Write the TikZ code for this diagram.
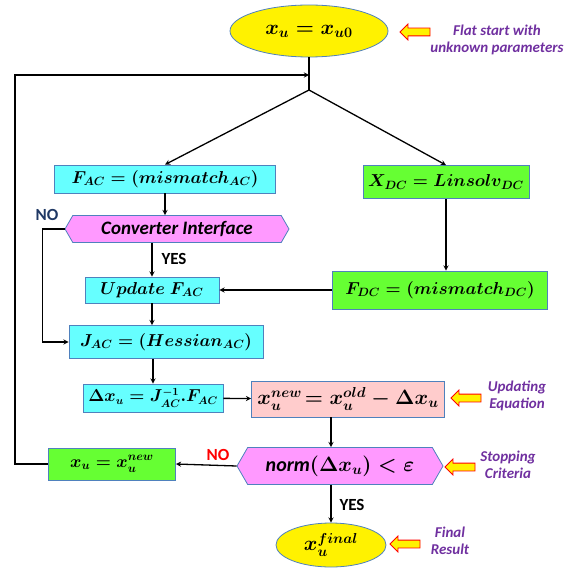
\documentclass[tikz,border=0pt]{standalone}
\usepackage{fontspec}
\newfontfamily\calibri{Carlito}
\usetikzlibrary{shapes.geometric,shapes.symbols,shapes.arrows}
\definecolor{bord}{RGB}{79,129,189}
\definecolor{cyanfill}{RGB}{102,255,255}
\definecolor{greenfill}{RGB}{102,255,51}
\definecolor{pinkfill}{RGB}{255,204,204}
\definecolor{magfill}{RGB}{255,153,255}
\definecolor{notepurple}{RGB}{112,48,160}
\definecolor{nodarkblue}{RGB}{31,56,100}
\newcommand\mathsize[1]{\boldmath\fontsize{#1}{#1}\selectfont}
\tikzset{
	mathbox/.style={draw=bord,thick,rectangle,inner sep=0pt,font=\mathsize{17}},
	acbox/.style={mathbox,fill=cyanfill},
	dcbox/.style={mathbox,fill=greenfill},
	hexbox/.style={draw=bord,thick,fill=magfill,signal,signal to=west and east,signal pointer angle=120,inner sep=0pt},
	oval/.style={draw=bord,thick,fill=yellow,ellipse,inner sep=0pt,font=\mathsize{20}},
	hollow/.style={draw=red,thick,fill=yellow,single arrow,shape border rotate=180,inner sep=3.5pt,minimum height=30pt,minimum width=15pt,single arrow head extend=4pt},
	note/.style={align=center,text=notepurple,font=\calibri\bfseries\itshape\fontsize{15}{17}\selectfont},
	answer/.style={font=\calibri\bfseries\fontsize{17}{19}\selectfont},
	link/.style={line width=1.3pt}
}
\begin{document}
\begin{tikzpicture}[x=1pt,y=-1pt,>=stealth]
	\useasboundingbox (0,0) rectangle (580,567);
	% nodes
	\node[oval,minimum width=158pt,minimum height=52pt] (start) at (309,31) {$x_u = x_{u0}$};
	\node[acbox,minimum width=221pt,minimum height=28pt] (fac) at (165,179) {$F_{AC} = (mismatch_{AC})$};
	\node[dcbox,minimum width=166pt,minimum height=33pt] (xdc) at (446,182) {$X_{DC} = Linsolv_{DC}$};
	\node[hexbox,minimum width=224pt,minimum height=27pt,font=\calibri\bfseries\itshape\fontsize{19}{21}\selectfont] (conv) at (177,229) {Converter Interface};
	\node[acbox,minimum width=134pt,minimum height=26pt] (upd) at (152,290) {$Update\ F_{AC}$};
	\node[dcbox,minimum width=215pt,minimum height=38pt] (fdc) at (440,290) {$F_{DC} = (mismatch_{DC})$};
	\node[acbox,minimum width=194pt,minimum height=33pt] (jac) at (166,342) {$J_{AC} = (Hessian_{AC})$};
	\node[acbox,minimum width=140pt,minimum height=28pt,font=\mathsize{16}] (dx) at (153,398) {$\Delta x_u = J_{AC}^{-1}.F_{AC}$};
	\node[mathbox,fill=pinkfill,minimum width=193pt,minimum height=36pt,font=\mathsize{19.5}] (xnew) at (348,399) {$x_u^{new}\!= x_u^{old} - \Delta x_u$};
	\node[hexbox,minimum width=206pt,minimum height=37pt,font=\mathsize{20}] (norm) at (340,466) {$\mbox{\calibri\bfseries\itshape norm}(\Delta x_u) < \varepsilon$};
	\node[dcbox,minimum width=127pt,minimum height=32pt,font=\mathsize{18}] (xup) at (112,464) {$x_u = x_u^{new}$};
	\node[oval,minimum width=110pt,minimum height=44pt] (final) at (331,545) {$x_u^{final}$};
	% notes
	\node[hollow] (a1) at (417,32) {};
	\node[note] (n1) at (497,40) {Flat start with\\unknown parameters};
	\node[hollow] (a2) at (468,398) {};
	\node[note] (n2) at (517,396) {Updating\\Equation};
	\node[hollow] (a3) at (462,467) {};
	\node[note] (n3) at (508,465) {Stopping\\Criteria};
	\node[hollow] (a4) at (407,544) {};
	\node[note] (n4) at (450,541) {Final\\Result};
	% answers
	\node[answer,text=nodarkblue] (no1) at (47,215) {NO};
	\node[answer] (yes1) at (174,259) {YES};
	\node[answer,text=red] (no2) at (218,455) {NO};
	\node[answer] (yes2) at (352,505) {YES};
	% connectors
	\coordinate (split) at (309,90);
	\coordinate (loop) at (309,75);
	\coordinate (lc) at (15,75);
	\draw[link] (start) -- (split);
	\draw[link,->] (split) -- (fac.north);
	\draw[link,->] (split) -- (xdc.north);
	\draw[link,->] (fac.south) -- (fac.south|-conv.north);
	\draw[link,->] (upd.north|-conv.south) -- (upd.north);
	\draw[link,->] (conv.west) -- ++(-22,0) |- (jac.west);
	\draw[link,->] (xdc) -- (fdc.north-|xdc);
	\draw[link,->] (fdc.west) -- (upd.east);
	\draw[link,->] (upd) -- (upd|-jac.north);
	\draw[link,->] (jac.south-|dx) -- (dx.north);
	\draw[link,->] (dx) -- (xnew);
	\draw[link,->] (final.north|-xnew.south) -- (final.north|-norm.north);
	\draw[link,->] (norm.south-|final) -- (final);
	\draw[link,->] (norm.west) -- (xup.east);
	\draw[link,->] (xup.west) -| (lc) -- (loop);
\end{tikzpicture}
\end{document}
